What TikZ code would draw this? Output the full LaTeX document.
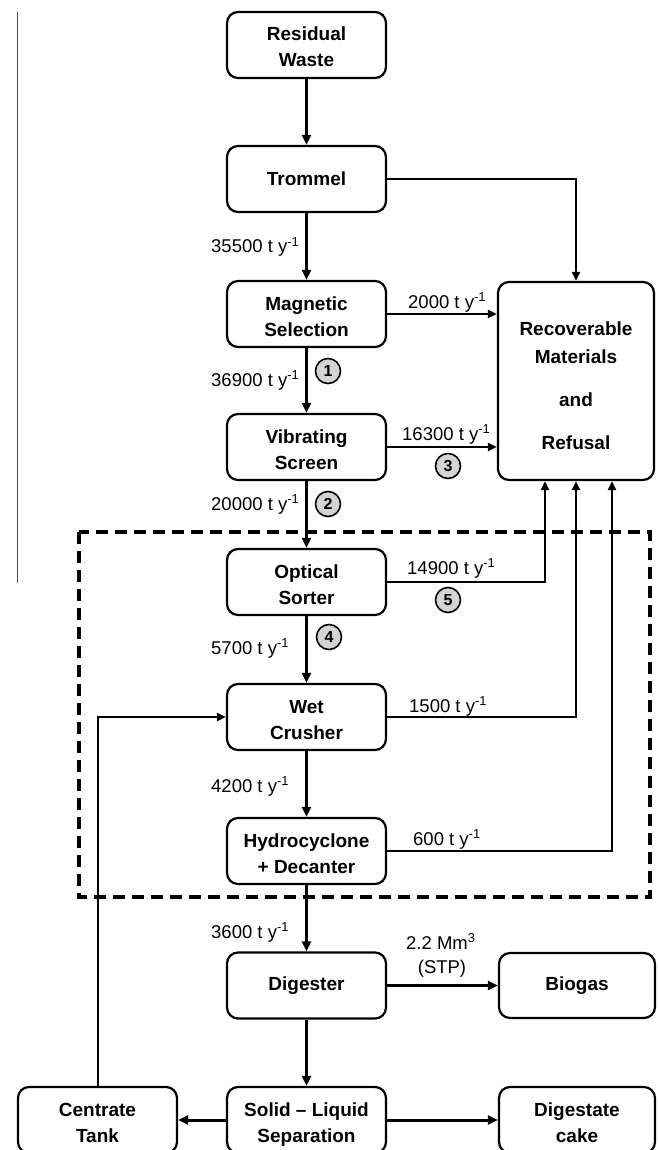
\documentclass[tikz,border=0pt]{standalone}
\usepackage{fontspec}
\setmainfont{Liberation Sans}
\usetikzlibrary{arrows.meta,calc}
\begin{document}
\begin{tikzpicture}[x=1pt,y=-1pt,
  box/.style={draw, line width=2.2pt, rounded corners=11pt, minimum width=159pt,
    minimum height=66pt, inner sep=0pt, align=center,
    font=\fontsize{19}{26}\selectfont\bfseries},
  twoline/.style={text height=44pt, text depth=0pt},
  flow/.style={line width=3pt, -{Triangle[length=10pt,width=9pt]}},
  side/.style={line width=2pt, -{Triangle[length=9pt,width=8pt]}},
  lbl/.style={anchor=base west, inner sep=0pt, font=\fontsize{18.5}{22}\selectfont},
  num/.style={circle, draw, line width=1.6pt, fill=black!17, minimum size=25pt,
    inner sep=0pt, font=\fontsize{16}{18}\selectfont\bfseries}
]
\useasboundingbox (0,0) rectangle (657,1150);
\fill[white] (0,0) rectangle (657,1150);

% column rule on the left
\draw[line width=1pt, black!70] (17,12) -- (17,583);

% process steps
\node[box, twoline] (res)  at (306.5,45)   {Residual\\Waste};
\node[box] (trom) at (306.5,179)  {Trommel};
\node[box, twoline] (mag)  at (306.5,314)  {Magnetic\\Selection};
\node[box, twoline] (vib)  at (306.5,447)  {Vibrating\\Screen};
\node[box, twoline] (opt)  at (306.5,582)  {Optical\\Sorter};
\node[box, twoline] (wet)  at (306.5,717)  {Wet\\Crusher};
\node[box, twoline] (hyd)  at (306.5,851)  {Hydrocyclone\\+ Decanter};
\node[box] (dig)  at (306.5,985.5){Digester};
\node[box, twoline] (sol)  at (306.5,1120) {Solid -- Liquid\\Separation};
\node[box, minimum width=156pt, minimum height=198pt] (rec) at (576,381) {};
\node[align=center, inner sep=0pt, yshift=-4.5pt,
  font=\fontsize{19}{28}\selectfont\bfseries] (rectext) at (rec.center)
  {Recoverable\\Materials\\[15pt]and\\[15pt]Refusal};
\node[box, minimum width=156pt, minimum height=65pt] (bio) at (577,985.5) {Biogas};
\node[box, twoline] (cen)  at (97.5,1120)  {Centrate\\Tank};
\node[box, twoline, minimum width=156pt] (cake) at (577,1120) {Digestate\\cake};

% wet treatment section
\draw[line width=4pt, dash pattern=on 12pt off 7pt] (79,532) rectangle (650,897);

% main line
\draw[flow] (res) -- (trom);
\draw[flow] (trom) -- (mag);
\draw[flow] (mag) -- (vib);
\draw[flow] (vib) -- (opt);
\draw[flow] (opt) -- (wet);
\draw[flow] (wet) -- (hyd);
\draw[flow] (hyd) -- (dig);
\draw[flow] (dig) -- (sol);
\draw[flow] (dig) -- (bio);
\draw[flow] (sol) -- (cen);
\draw[flow] (sol) -- (cake);

% rejected streams
\draw[side] (trom.east) -| (rec.north);
\draw[side] (mag.east) -- (mag.east -| rec.west);
\draw[side] (vib.east) -- (vib.east -| rec.west);
\draw[side] (opt.east) -| ([xshift=-31pt]rec.south);
\draw[side] (wet.east) -| (rec.south);
\draw[side] (hyd.east) -| ([xshift=36pt]rec.south);

% centrate recirculation
\draw[side] (cen.north) |- (wet.west);

% mass flows
\node[lbl] (f1) at (211,253) {35500 t y\textsuperscript{-1}};
\node[lbl] (f2) at (211,386) {36900 t y\textsuperscript{-1}};
\node[lbl] (f3) at (211,510) {20000 t y\textsuperscript{-1}};
\node[lbl] (f4) at (211,654) {5700 t y\textsuperscript{-1}};
\node[lbl] (f5) at (211,792) {4200 t y\textsuperscript{-1}};
\node[lbl] (f6) at (211,938) {3600 t y\textsuperscript{-1}};
\node[lbl] (r1) at (408,308) {2000 t y\textsuperscript{-1}};
\node[lbl] (r2) at (402,440) {16300 t y\textsuperscript{-1}};
\node[lbl] (r3) at (407,574) {14900 t y\textsuperscript{-1}};
\node[lbl] (r4) at (409,712) {1500 t y\textsuperscript{-1}};
\node[lbl] (r5) at (413,845) {600 t y\textsuperscript{-1}};
\node[lbl] (g1) at (406,949) {2.2 Mm\textsuperscript{3}};
\node[lbl, anchor=base] (g2) at (442,973) {(STP)};

% sampling points
\node[num] (n1) at (328,371) {1};
\node[num] (n2) at (328,504) {2};
\node[num] (n3) at (448,466) {3};
\node[num] (n4) at (329,637) {4};
\node[num] (n5) at (448,600) {5};
\end{tikzpicture}
\end{document}
